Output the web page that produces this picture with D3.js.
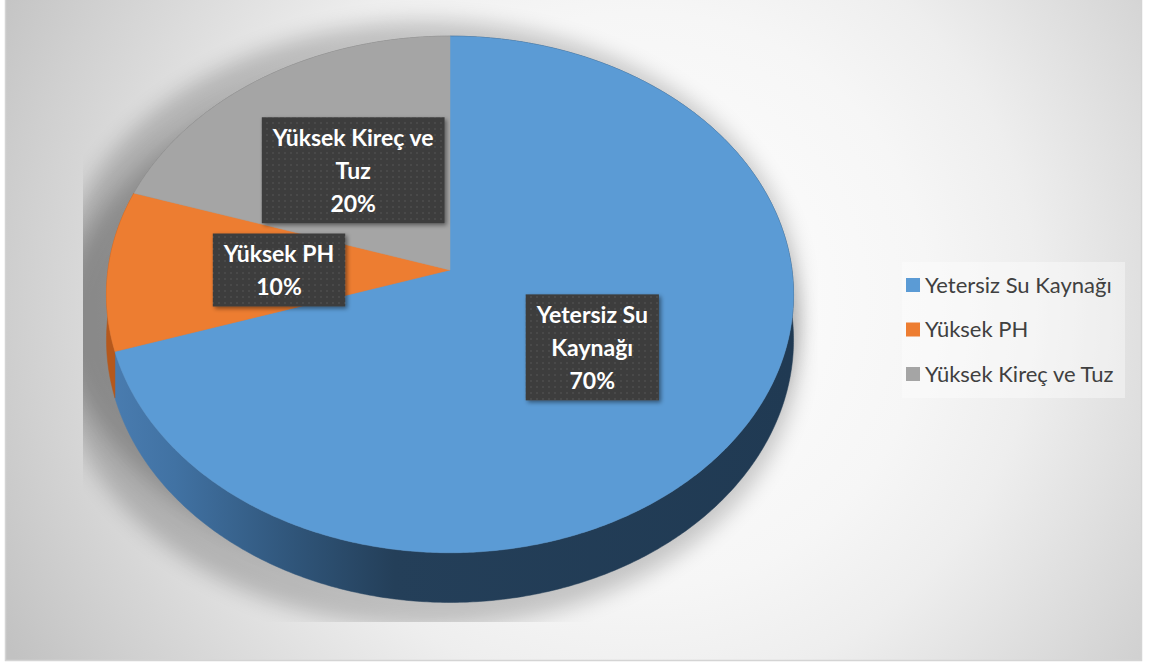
<!DOCTYPE html>
<html>
<head>
<meta charset="utf-8">
<script src="https://cdn.jsdelivr.net/npm/d3@7"></script>
<style>
  html, body { margin: 0; padding: 0; background: #ffffff; }
  svg { display: block; font-family: Lato, "Open Sans", "DejaVu Sans", sans-serif; }
</style>
</head>
<body>
<svg id="chart" width="1150" height="664"></svg>
<script>
// Data
const categories = ["Yetersiz Su Kaynağı", "Yüksek PH", "Yüksek Kireç ve Tuz"];
const values = [70, 10, 20];
const labelLines = [["Yetersiz Su", "Kaynağı"], ["Yüksek PH"], ["Yüksek Kireç ve", "Tuz"]];
const topColors = ["#5b9bd5", "#ed7d31", "#a5a5a5"];
const wallColors = ["url(#blueWall)", "#b5581c", "#6e6e6e"];

const svg = d3.select("#chart");
const defs = svg.append("defs");

// Tilted-disc projection: angle a clockwise from 12 o'clock, radius fraction f, depth 0 (top) .. 1 (bottom)
const P = { cx: 450, cy: 270, R: 342, S: 256, k: 0.0946, D: 45 };
function proj(a, f, depth) {
  const u = Math.sin(a) * f, v = -Math.cos(a) * f;
  const w = 1 - P.k * v;
  return [P.cx + P.R * u / w, P.cy + (P.S * v + depth * P.D) / w];
}
function arcPoints(a0, a1, depth) {
  const n = Math.max(2, Math.ceil(Math.abs(a1 - a0) / (Math.PI / 360)));
  return d3.range(n + 1).map(i => proj(a0 + (a1 - a0) * i / n, 1, depth));
}
const line = d3.line();

// Background gradient
const bg = defs.append("radialGradient").attr("id", "bgGrad")
  .attr("gradientUnits", "userSpaceOnUse")
  .attr("cx", 640).attr("cy", 300).attr("r", 720);
[[0, "#ffffff"], [0.4, "#f6f6f6"], [0.55, "#eeeeee"], [0.86, "#d0d0d0"], [1, "#c2c2c2"]]
  .forEach(([o, c]) => bg.append("stop").attr("offset", o).attr("stop-color", c));

// Side wall shading
const bw = defs.append("linearGradient").attr("id", "blueWall")
  .attr("gradientUnits", "userSpaceOnUse")
  .attr("x1", 106).attr("x2", 793).attr("y1", 0).attr("y2", 0);
[[0, "#4a7db1"], [0.1, "#4172a3"], [0.28, "#2f5478"], [0.42, "#243f59"], [1, "#203a53"]]
  .forEach(([o, c]) => bw.append("stop").attr("offset", o).attr("stop-color", c));

// Dotted label fill
const pat = defs.append("pattern").attr("id", "dots")
  .attr("width", 6).attr("height", 6).attr("patternUnits", "userSpaceOnUse");
pat.append("rect").attr("width", 6).attr("height", 6).attr("fill", "#3d3d3d");
pat.append("circle").attr("cx", 3).attr("cy", 3).attr("r", 1).attr("fill", "#4c4c4c");

defs.append("filter").attr("id", "boxShadow")
  .attr("x", "-20%").attr("y", "-20%").attr("width", "140%").attr("height", "140%")
  .append("feDropShadow").attr("dx", 2).attr("dy", 2).attr("stdDeviation", 2)
  .attr("flood-color", "#000").attr("flood-opacity", 0.45);

defs.append("filter").attr("id", "softShadow")
  .attr("x", "-30%").attr("y", "-30%").attr("width", "160%").attr("height", "160%")
  .append("feGaussianBlur").attr("stdDeviation", 10);

defs.append("clipPath").attr("id", "plotClip")
  .append("rect").attr("x", 83).attr("y", 0).attr("width", 735).attr("height", 622);

// Chart area
svg.append("rect").attr("x", 5.5).attr("y", -1).attr("width", 1136).attr("height", 661.5)
  .attr("fill", "url(#bgGrad)").attr("stroke", "#d4d4d4").attr("stroke-width", 1.5);

// Pie angles
const pie = d3.pie().sort(null).value(d => d)(values);

// Soft cast shadow under the pie
const fullTop = arcPoints(0, 2 * Math.PI, 0);
const fullBottom = arcPoints(0, 2 * Math.PI, 1);
svg.append("g").attr("clip-path", "url(#plotClip)")
  .append("g").attr("transform", "translate(-22,6) translate(450,330) scale(1.08,1.07) translate(-450,-330)")
  .selectAll("path").data([fullTop, fullBottom]).join("path")
  .attr("d", d => line(d) + "Z")
  .attr("fill", "#000").attr("opacity", 0.2)
  .attr("filter", "url(#softShadow)");

const g = svg.append("g");

// Outer walls
g.selectAll("path.wall").data(pie).join("path").attr("class", "wall")
  .attr("d", d => {
    const top = arcPoints(d.startAngle, d.endAngle, 0);
    const bot = arcPoints(d.startAngle, d.endAngle, 1).reverse();
    return line(top.concat(bot)) + "Z";
  })
  .attr("fill", (d, i) => wallColors[i])
  .attr("stroke", (d, i) => wallColors[i]).attr("stroke-width", 0.5);

// Top faces
g.selectAll("path.top").data(pie).join("path").attr("class", "top")
  .attr("d", d => line([proj(0, 0, 0)].concat(arcPoints(d.startAngle, d.endAngle, 0))) + "Z")
  .attr("fill", (d, i) => topColors[i])
  .attr("stroke", (d, i) => topColors[i]).attr("stroke-width", 0.5);

// Data labels
const total = d3.sum(values);
const lineH = 33;
svg.append("g").selectAll("g").data(pie).join("g")
  .each(function (d, i) {
    const mid = (d.startAngle + d.endAngle) / 2;
    const [x, y] = proj(mid, 0.5, 0);
    const lines = labelLines[i].concat([Math.round(d.data / total * 100) + "%"]);
    const grp = d3.select(this);
    const rect = grp.append("rect");
    const texts = grp.selectAll("text").data(lines).join("text")
      .attr("x", x)
      .attr("y", (t, j) => y - (lines.length - 1) * lineH / 2 + j * lineH)
      .attr("dy", "0.36em")
      .attr("text-anchor", "middle")
      .attr("fill", "#ffffff")
      .attr("font-weight", 700)
      .attr("font-size", 23)
      .text(t => t);
    let maxW = 0;
    texts.each(function () { maxW = Math.max(maxW, this.getComputedTextLength()); });
    const bwid = maxW + 22, bh = lines.length * lineH + 7;
    rect.attr("x", x - bwid / 2).attr("y", y - bh / 2)
      .attr("width", bwid).attr("height", bh)
      .attr("fill", "url(#dots)")
      .attr("filter", "url(#boxShadow)");
  });

// Legend
const legend = svg.append("g");
legend.append("rect").attr("x", 902).attr("y", 262).attr("width", 223).attr("height", 136)
  .attr("fill", "#ffffff").attr("opacity", 0.4);
const items = legend.selectAll("g.item").data(categories).join("g").attr("class", "item")
  .attr("transform", (d, i) => `translate(906, ${285 + i * 44.5})`);
items.append("rect").attr("x", 0).attr("y", -7).attr("width", 14).attr("height", 14)
  .attr("fill", (d, i) => topColors[i]);
items.append("text").attr("x", 19).attr("dy", "0.36em")
  .attr("font-size", 22).attr("fill", "#404040")
  .text(d => d);
</script>
</body>
</html>
